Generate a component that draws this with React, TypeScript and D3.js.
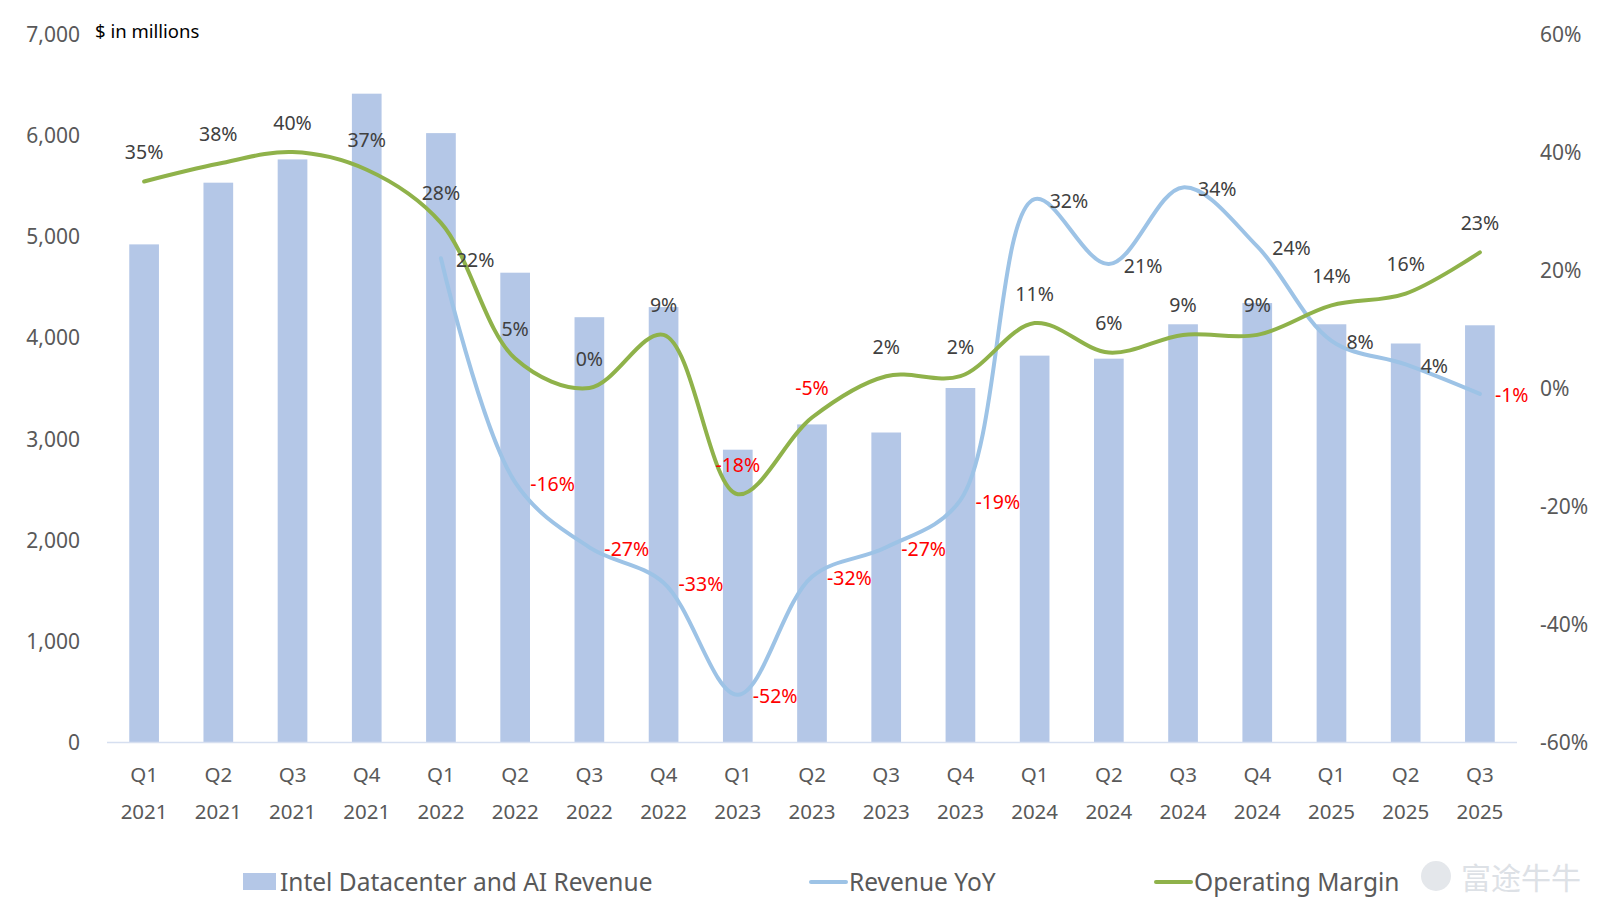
import React, { useRef, useEffect } from 'react';
import * as d3 from 'd3';

const quarterLabels = ['Q1', 'Q2', 'Q3', 'Q4', 'Q1', 'Q2', 'Q3', 'Q4', 'Q1', 'Q2', 'Q3', 'Q4', 'Q1', 'Q2', 'Q3', 'Q4', 'Q1', 'Q2', 'Q3'];
const yearLabels = ['2021', '2021', '2021', '2021', '2022', '2022', '2022', '2022', '2023', '2023', '2023', '2023', '2024', '2024', '2024', '2024', '2025', '2025', '2025'];

// $ in millions
const dcaiRevenue = [4920, 5530, 5760, 6410, 6020, 4640, 4200, 4300, 2890, 3140, 3060, 3500, 3820, 3790, 4130, 4340, 4130, 3940, 4120];
// percent, null where there is no value
const revenueYoY = [null, null, null, null, 22, -16, -27, -33, -52, -32, -27, -19, 32, 21, 34, 24, 8, 4, -1];
const operatingMargin = [35, 38, 40, 37, 28, 5, 0, 9, -18, -5, 2, 2, 11, 6, 9, 9, 14, 16, 23];

const leftTicks = [0, 1000, 2000, 3000, 4000, 5000, 6000, 7000];
const rightTicks = [-60, -40, -20, 0, 20, 40, 60];

const BAR_COLOR = '#B4C7E7';
const YOY_COLOR = '#9DC3E6';
const MARGIN_COLOR = '#8FB24A';
const TEXT_COLOR = '#595959';
const LABEL_COLOR = '#404040';
const NEG_COLOR = '#FF0000';
const FONT = '"Noto Sans", "Open Sans", sans-serif';

const App: React.FC = () => {
  const svgRef = useRef<SVGSVGElement>(null);
  const width = 1600;
  const height = 913;

  useEffect(() => {
    const svg = d3.select(svgRef.current);
    svg.selectAll('*').remove();

    const plot = { left: 107, right: 1517, top: 34, bottom: 742 };
    const keys = quarterLabels.map((q, i) => `${q} ${yearLabels[i]}`);

    const x = d3.scaleBand<string>()
      .domain(keys)
      .range([plot.left, plot.right])
      .paddingInner(0.6)
      .paddingOuter(0.3);

    const yLeft = d3.scaleLinear().domain([0, 7000]).range([plot.bottom, plot.top]);
    const yRight = d3.scaleLinear().domain([-60, 60]).range([plot.bottom, plot.top]);

    const cx = (i: number) => (x(keys[i]) || 0) + x.bandwidth() / 2;

    // left axis labels
    svg.append('g')
      .selectAll('text')
      .data(leftTicks)
      .enter()
      .append('text')
      .attr('x', 80)
      .attr('y', d => yLeft(d))
      .attr('text-anchor', 'end')
      .attr('dominant-baseline', 'central')
      .style('font-family', FONT)
      .style('font-size', '21px')
      .style('fill', TEXT_COLOR)
      .text(d => d3.format(',')(d));

    // right axis labels
    svg.append('g')
      .selectAll('text')
      .data(rightTicks)
      .enter()
      .append('text')
      .attr('x', 1540)
      .attr('y', d => yRight(d))
      .attr('text-anchor', 'start')
      .attr('dominant-baseline', 'central')
      .style('font-family', FONT)
      .style('font-size', '21px')
      .style('fill', TEXT_COLOR)
      .text(d => `${d}%`);

    svg.append('text')
      .attr('x', 95)
      .attr('y', 30)
      .attr('dominant-baseline', 'central')
      .style('font-family', FONT)
      .style('font-size', '18.5px')
      .style('fill', '#000')
      .text('$ in millions');

    // bars
    svg.append('g')
      .selectAll('rect')
      .data(dcaiRevenue)
      .enter()
      .append('rect')
      .attr('x', (d, i) => x(keys[i]) || 0)
      .attr('y', d => yLeft(d))
      .attr('width', x.bandwidth())
      .attr('height', d => yLeft(0) - yLeft(d))
      .attr('fill', BAR_COLOR);

    // baseline
    svg.append('line')
      .attr('x1', plot.left)
      .attr('x2', plot.right)
      .attr('y1', plot.bottom + 0.5)
      .attr('y2', plot.bottom + 0.5)
      .attr('stroke', '#D6DFF0')
      .attr('stroke-width', 1.5);

    // category labels
    const xl = svg.append('g');
    quarterLabels.forEach((q, i) => {
      xl.append('text')
        .attr('x', cx(i))
        .attr('y', 774)
        .attr('text-anchor', 'middle')
        .attr('dominant-baseline', 'central')
        .style('font-family', FONT)
        .style('font-size', '20.5px')
        .style('fill', TEXT_COLOR)
        .text(q);
      xl.append('text')
        .attr('x', cx(i))
        .attr('y', 811)
        .attr('text-anchor', 'middle')
        .attr('dominant-baseline', 'central')
        .style('font-family', FONT)
        .style('font-size', '20.5px')
        .style('fill', TEXT_COLOR)
        .text(yearLabels[i]);
    });

    type Pt = { i: number; v: number };
    const yoyPts: Pt[] = revenueYoY
      .map((v, i) => ({ i, v: v as number }))
      .filter((d, i) => revenueYoY[i] !== null);
    const marginPts: Pt[] = operatingMargin.map((v, i) => ({ i, v }));

    const line = d3.line<Pt>()
      .x(d => cx(d.i))
      .y(d => yRight(d.v))
      .curve(d3.curveCatmullRom.alpha(0.5));

    svg.append('path')
      .datum(yoyPts)
      .attr('fill', 'none')
      .attr('stroke', YOY_COLOR)
      .attr('stroke-width', 4)
      .attr('stroke-linecap', 'round')
      .attr('d', line);

    svg.append('path')
      .datum(marginPts)
      .attr('fill', 'none')
      .attr('stroke', MARGIN_COLOR)
      .attr('stroke-width', 4)
      .attr('stroke-linecap', 'round')
      .attr('d', line);

    // YoY labels to the right of the points
    svg.append('g')
      .selectAll('text')
      .data(yoyPts)
      .enter()
      .append('text')
      .attr('x', d => cx(d.i) + 15)
      .attr('y', d => yRight(d.v) + 1)
      .attr('dominant-baseline', 'central')
      .style('font-family', FONT)
      .style('font-size', '19.5px')
      .style('fill', d => (d.v < 0 ? NEG_COLOR : LABEL_COLOR))
      .text(d => `${d.v}%`);

    // operating margin labels above the points
    svg.append('g')
      .selectAll('text')
      .data(marginPts)
      .enter()
      .append('text')
      .attr('x', d => cx(d.i))
      .attr('y', d => yRight(d.v) - 30)
      .attr('text-anchor', 'middle')
      .attr('dominant-baseline', 'central')
      .style('font-family', FONT)
      .style('font-size', '19.5px')
      .style('fill', d => (d.v < 0 ? NEG_COLOR : LABEL_COLOR))
      .text(d => `${d.v}%`);

    // legend
    const lg = svg.append('g').style('font-family', FONT).style('font-size', '24.5px').style('fill', TEXT_COLOR);
    lg.append('rect').attr('x', 243).attr('y', 873).attr('width', 33).attr('height', 17).attr('fill', BAR_COLOR);
    lg.append('text').attr('x', 280).attr('y', 881).attr('dominant-baseline', 'central').text('Intel Datacenter and AI Revenue');
    lg.append('line').attr('x1', 811).attr('x2', 846).attr('y1', 882).attr('y2', 882)
      .attr('stroke', YOY_COLOR).attr('stroke-width', 4).attr('stroke-linecap', 'round');
    lg.append('text').attr('x', 849).attr('y', 881).attr('dominant-baseline', 'central').text('Revenue YoY');
    lg.append('line').attr('x1', 1156).attr('x2', 1191).attr('y1', 882).attr('y2', 882)
      .attr('stroke', MARGIN_COLOR).attr('stroke-width', 4).attr('stroke-linecap', 'round');
    lg.append('text').attr('x', 1194).attr('y', 881).attr('dominant-baseline', 'central').text('Operating Margin');

    // watermark
    const wm = svg.append('g');
    wm.append('circle').attr('cx', 1436).attr('cy', 876).attr('r', 15).attr('fill', '#E4E7EB');
    wm.append('text')
      .attr('x', 1461)
      .attr('y', 876)
      .attr('dominant-baseline', 'central')
      .style('font-family', '"Noto Sans CJK SC", sans-serif')
      .style('font-size', '30px')
      .style('fill', '#DDE1E6')
      .text('富途牛牛');
  }, []);

  return (
    <div style={{ position: 'absolute', left: 0, top: 0, background: '#fff' }}>
      <svg ref={svgRef} width={width} height={height} />
    </div>
  );
};

export default App;
